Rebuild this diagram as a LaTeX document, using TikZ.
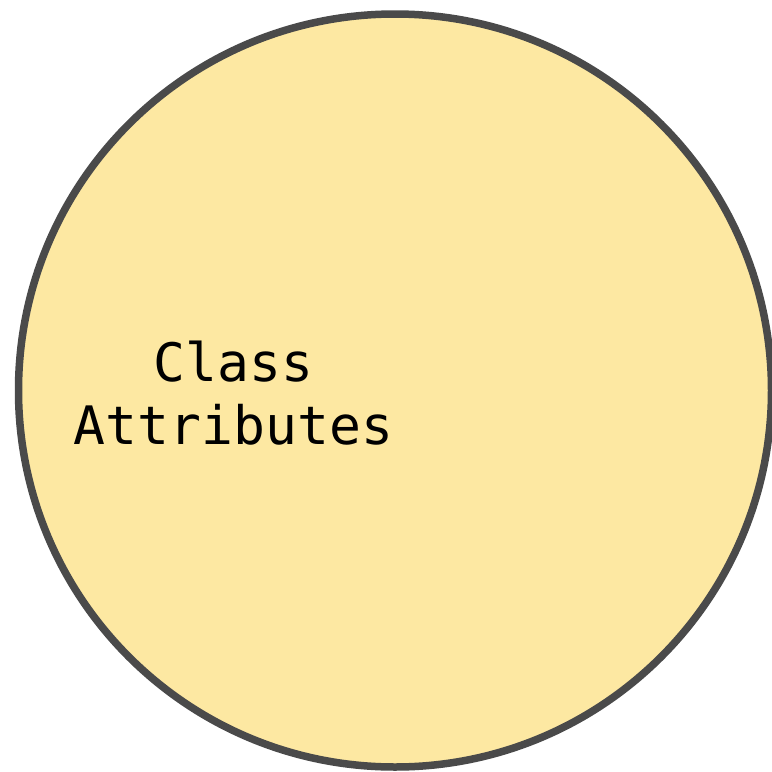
\documentclass[tikz,border=0pt]{standalone}
\usepackage{fontspec}
\setmonofont{DejaVu Sans Mono}
\usepackage{xcolor}
\definecolor{setyellow}{RGB}{253,232,162}
\definecolor{setgray}{RGB}{74,74,74}
\usetikzlibrary{positioning}

\begin{document}
\begin{tikzpicture}[x=1pt, y=-1pt]
  \useasboundingbox (0,0) rectangle (772,772);

  % Set circle
  \node[circle, fill=setyellow, draw=setgray, line width=7.5pt,
        minimum size=753pt, inner sep=0pt] (attrs) at (395,390.5) {};

  % Set label
  \node[font=\fontsize{53}{63}\selectfont\ttfamily, align=center,
        inner sep=0pt] (attrslabel) at (233.5,393) {Class\\Attributes};
\end{tikzpicture}
\end{document}
